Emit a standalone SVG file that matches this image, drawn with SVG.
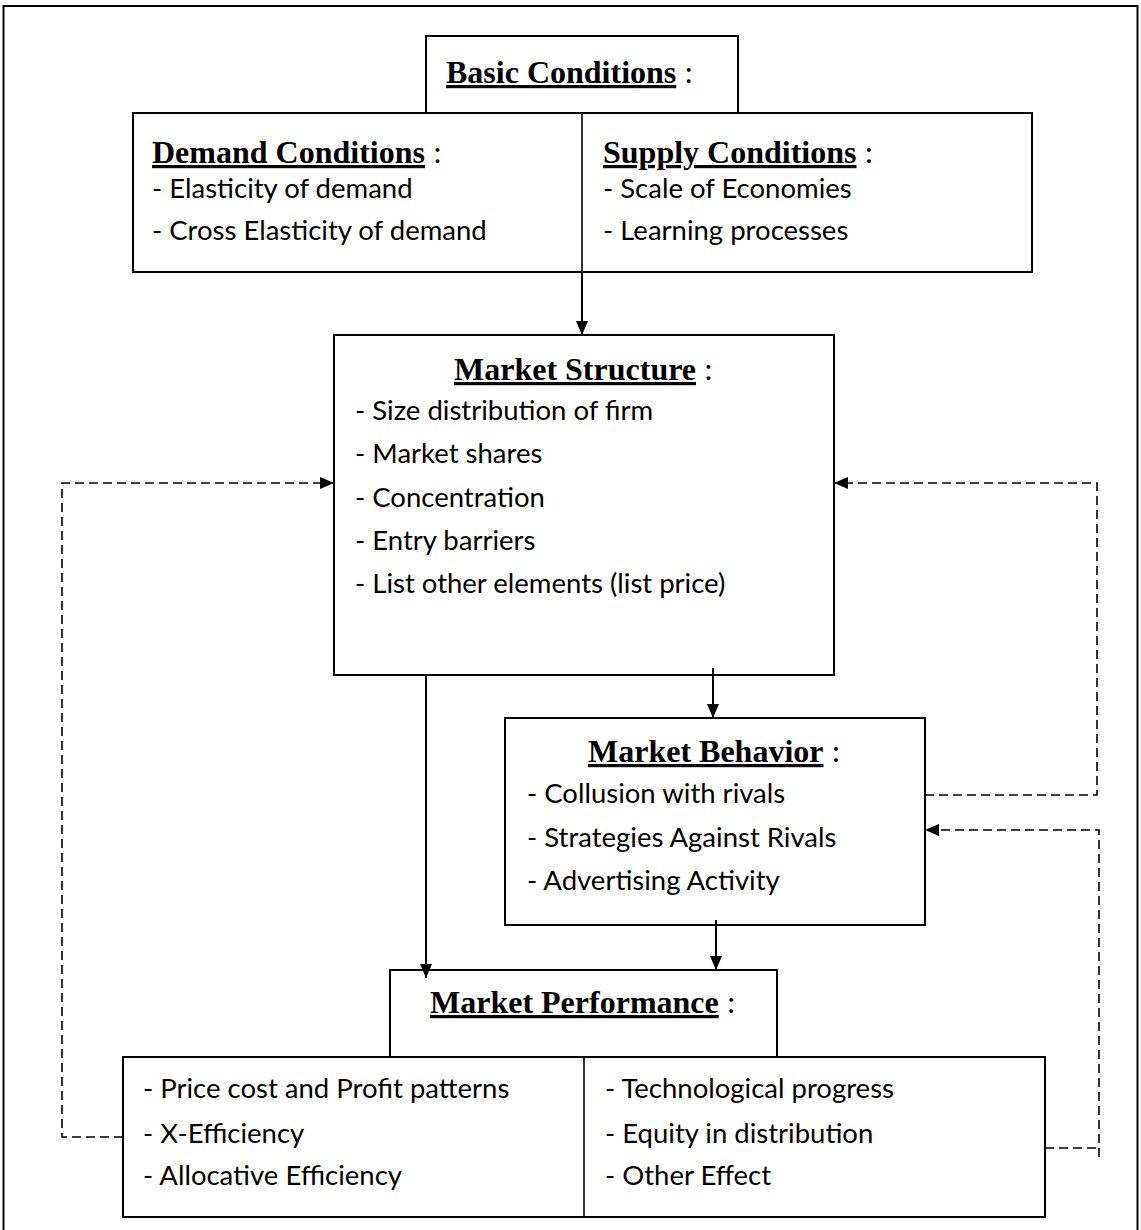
<svg xmlns="http://www.w3.org/2000/svg" width="1141" height="1230" viewBox="0 0 1141 1230">
<style>
.box{fill:#fff;stroke:#000;stroke-width:2}
.frame{fill:none;stroke:#000;stroke-width:2}
.div{stroke:#000;stroke-width:1.6}
.ttl{font-family:"Liberation Serif",serif;font-size:32px;fill:#000}
.ttl .b{font-weight:bold;text-decoration:underline}
.itm{font-family:Lato,"Open Sans",sans-serif;font-size:27.5px;fill:#000}
.solid{fill:none;stroke:#000;stroke-width:2}
.dash{fill:none;stroke:#000;stroke-width:1.6;stroke-dasharray:9 5}
</style>
<defs>
<marker id="ah" markerWidth="14" markerHeight="12" refX="14" refY="6" orient="auto" markerUnits="userSpaceOnUse">
<path d="M0,0 L14,6 L0,12 Z" fill="#000"/>
</marker>
</defs>
<rect class="frame" x="3.5" y="6" width="1134" height="1240"/>

<g id="basic">
<rect class="box" x="426" y="36" width="312" height="77"/>
<text class="ttl" x="446" y="83"><tspan class="b">Basic Conditions</tspan> :</text>
</g>

<g id="demand-supply">
<rect class="box" x="133" y="113" width="899" height="159"/>
<line class="div" x1="582" y1="113" x2="582" y2="272"/>
<text class="ttl" x="152" y="163"><tspan class="b">Demand Conditions</tspan> :</text>
<text class="itm" x="152" y="198">- Elasticity of demand</text>
<text class="itm" x="152" y="240">- Cross Elasticity of demand</text>
<text class="ttl" x="603" y="163"><tspan class="b">Supply Conditions</tspan> :</text>
<text class="itm" x="603" y="198">- Scale of Economies</text>
<text class="itm" x="603" y="240">- Learning processes</text>
</g>

<g id="structure">
<rect class="box" x="334" y="335" width="500" height="340"/>
<text class="ttl" x="454" y="380"><tspan class="b">Market Structure</tspan> :</text>
<text class="itm" x="355" y="420">- Size distribution of firm</text>
<text class="itm" x="355" y="463">- Market shares</text>
<text class="itm" x="355" y="507">- Concentration</text>
<text class="itm" x="355" y="550">- Entry barriers</text>
<text class="itm" x="355" y="593">- List other elements (list price)</text>
</g>

<g id="behavior">
<rect class="box" x="505" y="718" width="420" height="207"/>
<text class="ttl" x="588" y="762"><tspan class="b">Market Behavior</tspan> :</text>
<text class="itm" x="527" y="803">- Collusion with rivals</text>
<text class="itm" x="527" y="847">- Strategies Against Rivals</text>
<text class="itm" x="527" y="890">- Advertising Activity</text>
</g>

<g id="performance">
<rect class="box" x="390" y="970" width="387" height="88"/>
<text class="ttl" x="430" y="1013"><tspan class="b">Market Performance</tspan> :</text>
</g>

<g id="performance-items">
<rect class="box" x="123" y="1057" width="922" height="160"/>
<line class="div" x1="584" y1="1058" x2="584" y2="1217"/>
<text class="itm" x="143" y="1098">- Price cost and Profit patterns</text>
<text class="itm" x="143" y="1143">- X-Efficiency</text>
<text class="itm" x="143" y="1185">- Allocative Efficiency</text>
<text class="itm" x="605" y="1098">- Technological progress</text>
<text class="itm" x="605" y="1143">- Equity in distribution</text>
<text class="itm" x="605" y="1185">- Other Effect</text>
</g>

<g id="connectors">
<path class="solid" d="M582,272 V335" marker-end="url(#ah)"/>
<path class="solid" d="M713,668 V718" marker-end="url(#ah)"/>
<path class="solid" d="M426,675 V978" marker-end="url(#ah)"/>
<path class="solid" d="M716,920 V970" marker-end="url(#ah)"/>
<path class="dash" d="M123,1137 H62 V483 H334" marker-end="url(#ah)"/>
<path class="dash" d="M925,795 H1097 V483 H834" marker-end="url(#ah)"/>
<path class="dash" d="M1045,1148 H1099"/>
<path class="dash" d="M1099,1157 V830 H925" marker-end="url(#ah)"/>
</g>
</svg>
